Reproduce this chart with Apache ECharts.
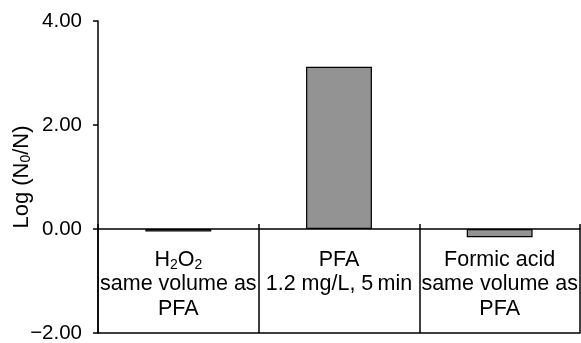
<!DOCTYPE html>
<html>
<head>
<meta charset="utf-8">
<script src="https://cdn.jsdelivr.net/npm/echarts@6/dist/echarts.min.js"></script>
<style>
  html, body { margin: 0; padding: 0; background: #fff; }
  #chart { width: 581px; height: 343px; }
</style>
</head>
<body>
<div id="chart"></div>
<script>
// category labels (rich text for subscripts)
var categories = [
	'{n|H}{s|2}{n|O}{s|2}\n{n|same volume as}\n{n|PFA}',
	'{n|PFA}\n{n|1.2 mg/L, 5\u2009min}\n{n| }',
	'{n|Formic acid}\n{n|same volume as}\n{n|PFA}'
];
var values = [-0.05, 3.12, -0.16];
var yTicks = [-2, 0, 2, 4];

var font = 'Liberation Sans, Arial, sans-serif';
var black = '#000';

var richLabel = {
	n: { fontFamily: font, fontSize: 21.5, color: black, lineHeight: 24.5 },
	s: { fontFamily: font, fontSize: 14, color: black, lineHeight: 24.5, padding: [10, 0, 0, 0] }
};

var chart = echarts.init(document.getElementById('chart'));
var option = {
	animation: false,
	backgroundColor: '#fff',
	grid: { left: 98, right: 1, top: 21, bottom: 10, outerBoundsMode: 'none', containLabel: false },
	xAxis: [ {
		// zero line with short ticks above it
		type: 'category',
		data: categories,
		position: 'bottom',
		axisLine: { onZero: true, lineStyle: { color: black, width: 1.5 } },
		axisTick: { show: true, inside: true, length: 5, interval: 0, lineStyle: { color: black, width: 1.5 } },
		axisLabel: { show: false }
	}, {
		// bottom line, dividers and the labels
		type: 'category',
		data: categories,
		position: 'bottom',
		axisLine: { onZero: false, lineStyle: { color: black, width: 1.5 } },
		axisTick: { show: true, inside: true, length: 104, interval: 0, lineStyle: { color: black, width: 1.5 } },
		axisLabel: { show: true, inside: true, interval: 0, margin: 12, rich: richLabel, align: 'center' }
	} ],
	yAxis: {
		type: 'value',
		min: yTicks[0],
		max: yTicks[yTicks.length - 1],
		interval: 2,
		name: '{n|Log (N}{s|0}{n|/N)}',
		nameLocation: 'middle',
		nameRotate: 90,
		nameGap: 65,
		nameMoveOverlap: false,
		nameTextStyle: {
			rich: {
				n: { fontFamily: font, fontSize: 22, color: black },
				s: { fontFamily: font, fontSize: 14, color: black, padding: [9, 0, 0, 0] }
			}
		},
		axisLine: { show: true, onZero: false, lineStyle: { color: black, width: 1.5 } },
		axisTick: { show: true, inside: false, length: 5, lineStyle: { color: black, width: 1.5 } },
		splitLine: { show: false },
		axisLabel: {
			margin: 16,
			fontFamily: font,
			fontSize: 20.5,
			color: black,
			formatter: function(v) {
				return (v < 0 ? '\u2212' : '') + Math.abs(v).toFixed(2);
			}
		}
	},
	series: [ {
		type: 'bar',
		xAxisIndex: 0,
		data: values,
		barWidth: '41%',
		itemStyle: { color: '#939393', borderColor: black, borderWidth: 1.2 }
	} ]
};
chart.setOption(option);
</script>
</body>
</html>
